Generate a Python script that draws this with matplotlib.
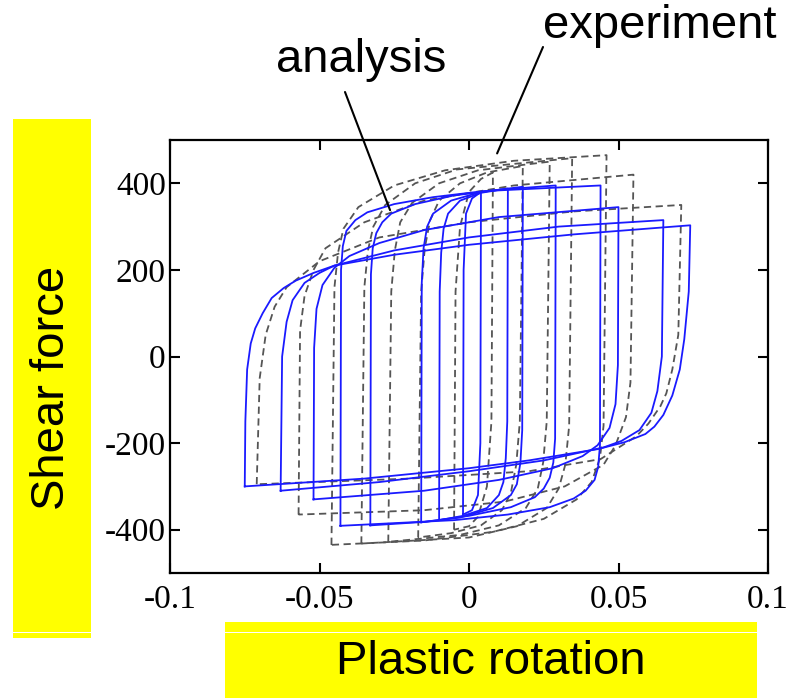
import matplotlib.pyplot as plt
from matplotlib.patches import Rectangle

# analysis loops (blue): each list = ascending branch then descending branch
ana_loop1 = [(-0.002, -365), (-0.0018, 200), (-0.001, 330), (0.001, 365), (0.004, 380),
             (0.0038, -200), (0.003, -320), (0.001, -355), (-0.002, -365)]
ana_loop2 = [(-0.010, -378), (-0.0098, 150), (-0.0093, 240), (-0.0085, 295), (-0.007, 330), (-0.003, 360), (0.004, 378), (0.013, 388),
             (0.0128, -150), (0.0123, -235), (0.0115, -290), (0.010, -320), (0.006, -350), (-0.002, -368), (-0.010, -378)]
ana_loop3 = [(-0.016, -383), (-0.0158, 170), (-0.0152, 250), (-0.014, 300), (-0.012, 330), (-0.006, 360), (0.004, 380), (0.018, 392),
             (0.0178, -170), (0.0172, -245), (0.016, -295), (0.014, -320), (0.008, -350), (-0.003, -372), (-0.016, -383)]
ana_loop4 = [(-0.033, -390), (-0.0328, 190), (-0.0322, 250), (-0.031, 285), (-0.029, 310), (-0.026, 330), (-0.018, 352), (-0.005, 372), (0.010, 385), (0.029, 395),
             (0.0288, -190), (0.0282, -245), (0.027, -280), (0.025, -305), (0.022, -325), (0.014, -348), (0.0, -368), (-0.015, -382), (-0.033, -390)]
ana_loop5 = [(-0.043, -391), (-0.0428, 200), (-0.0422, 255), (-0.041, 290), (-0.038, 315), (-0.034, 333), (-0.025, 352), (-0.012, 368), (0.005, 382), (0.044, 395),
             (0.0438, -205), (0.0432, -255), (0.042, -285), (0.039, -310), (0.035, -328), (0.027, -348), (0.013, -365), (-0.005, -378), (-0.043, -391)]
ana_loop6 = [(-0.052, -330), (-0.0518, 20), (-0.051, 110), (-0.049, 165), (-0.045, 205), (-0.040, 232), (-0.030, 262), (-0.015, 292), (0.010, 322), (0.050, 345),
             (0.0498, -20), (0.049, -110), (0.047, -165), (0.043, -205), (0.038, -230), (0.028, -258), (0.010, -285), (-0.015, -310), (-0.052, -330)]
ana_loop7 = [(-0.063, -310), (-0.0625, 0), (-0.061, 80), (-0.059, 130), (-0.055, 170), (-0.050, 193), (-0.045, 210), (-0.025, 245), (0.0, 275), (0.030, 300), (0.065, 315),
             (0.0645, 0), (0.063, -80), (0.061, -130), (0.057, -170), (0.051, -195), (0.045, -210), (0.025, -240), (0.0, -265), (-0.030, -290), (-0.063, -310)]
ana_loop8 = [(-0.075, -300), (-0.0748, -150), (-0.0742, -30), (-0.073, 30), (-0.0715, 65), (-0.069, 100), (-0.066, 135),
             (-0.062, 158), (-0.058, 175), (-0.052, 193), (-0.045, 210), (-0.025, 235), (0.0, 258), (0.035, 282), (0.074, 303),
             (0.0735, 150), (0.072, 40), (0.0705, -30), (0.068, -90), (0.065, -135), (0.062, -162), (0.059, -179),
             (0.052, -198), (0.043, -214), (0.020, -240), (0.0, -258), (-0.035, -282), (-0.075, -300)]

# experiment loops (grey dashed)
exp_loop1 = [(-0.005, -400), (-0.0045, 150), (-0.003, 300), (0.0, 380), (0.004, 410), (0.008, 425),
             (0.0075, -150), (0.006, -300), (0.003, -370), (0.0, -392), (-0.005, -400)]
exp_loop2 = [(-0.017, -418), (-0.016, 150), (-0.0148, 250), (-0.013, 315), (-0.010, 360), (-0.003, 400), (0.006, 425), (0.018, 440),
             (0.017, -150), (0.0158, -250), (0.014, -315), (0.011, -355), (0.004, -390), (-0.006, -408), (-0.017, -418)]
exp_loop3 = [(-0.027, -428), (-0.026, 150), (-0.0248, 245), (-0.023, 310), (-0.019, 355), (-0.010, 400), (0.003, 430), (0.027, 450),
             (0.026, -150), (0.0248, -245), (0.023, -305), (0.019, -350), (0.010, -390), (-0.003, -412), (-0.027, -428)]
exp_loop4 = [(-0.036, -432), (-0.035, 160), (-0.0338, 245), (-0.032, 300), (-0.028, 350), (-0.018, 400), (-0.004, 432), (0.0345, 458),
             (0.0335, -160), (0.0322, -250), (0.030, -305), (0.026, -350), (0.016, -392), (0.0, -418), (-0.036, -432)]
exp_loop5 = [(-0.046, -435), (-0.045, 160), (-0.0438, 240), (-0.042, 295), (-0.037, 345), (-0.025, 395), (-0.008, 430), (0.015, 452), (0.046, 465),
             (0.045, -160), (0.0438, -235), (0.041, -290), (0.036, -330), (0.025, -375), (0.008, -405), (-0.015, -425), (-0.046, -435)]
exp_loop6 = [(-0.057, -365), (-0.0565, 60), (-0.055, 140), (-0.052, 200), (-0.048, 250), (-0.035, 310), (-0.015, 360), (0.015, 395), (0.055, 420),
             (0.054, -60), (0.0525, -140), (0.049, -205), (0.045, -250), (0.032, -300), (0.012, -335), (-0.015, -355), (-0.057, -365)]
exp_loop7 = [(-0.071, -295), (-0.070, -50), (-0.068, 50), (-0.065, 115), (-0.061, 160), (-0.050, 220), (-0.030, 275), (0.0, 310), (0.035, 335), (0.071, 350),
             (0.070, 50), (0.068, -30), (0.066, -85), (0.064, -115), (0.060, -155), (0.056, -184), (0.044, -237), (0.020, -265), (-0.020, -282), (-0.071, -295)]

ana_loops = [ana_loop1, ana_loop2, ana_loop3, ana_loop4, ana_loop5, ana_loop6, ana_loop7, ana_loop8]
exp_loops = [exp_loop1, exp_loop2, exp_loop3, exp_loop4, exp_loop5, exp_loop6, exp_loop7]

xticks = [-0.1, -0.05, 0, 0.05, 0.1]
xtick_labels = ["-0.1", "-0.05", "0", "0.05", "0.1"]
yticks = [-400, -200, 0, 200, 400]
ytick_labels = ["-400", "-200", "0", "200", "400"]

W, H = 802, 698
fig = plt.figure(figsize=(W / 100, H / 100), dpi=100)
ax = fig.add_axes([170 / W, 1 - 573 / H, 598 / W, 433 / H])

for loop in exp_loops:
    xs = [p[0] for p in loop]
    ys = [p[1] for p in loop]
    ax.plot(xs, ys, color="#555555", lw=1.3, linestyle=(0, (4, 2.5)))
for loop in ana_loops:
    xs = [p[0] for p in loop]
    ys = [p[1] for p in loop]
    ax.plot(xs, ys, color="#1a1aff", lw=1.3)

ax.set_xlim(-0.1, 0.1)
ax.set_ylim(-500, 500)
ax.set_xticks(xticks)
ax.set_xticklabels(xtick_labels)
ax.set_yticks(yticks)
ax.set_yticklabels(ytick_labels)
ax.tick_params(direction="in", length=7, width=1.5, top=True, right=True,
               labelsize=24)
ax.tick_params(axis="x", pad=8)
ax.tick_params(axis="y", pad=3)
for lab in ax.get_xticklabels() + ax.get_yticklabels():
    lab.set_family("Liberation Serif")
for sp in ax.spines.values():
    sp.set_linewidth(1.6)

# yellow label boxes
fig.add_artist(Rectangle((13 / W, 1 - 638 / H), 78 / W, 519 / H, transform=fig.transFigure,
                         facecolor="yellow", edgecolor="none", zorder=0))
fig.add_artist(Rectangle((13 / W, 1 - 633 / H), 78 / W, 1.2 / H, transform=fig.transFigure,
                         facecolor="white", edgecolor="none", zorder=1))
fig.add_artist(Rectangle((225 / W, 0), 532 / W, 76 / H, transform=fig.transFigure,
                         facecolor="yellow", edgecolor="none", zorder=0))
fig.add_artist(Rectangle((225 / W, 1 - 633 / H), 532 / W, 1.2 / H, transform=fig.transFigure,
                         facecolor="white", edgecolor="none", zorder=1))

fig.text(52 / W, 1 - 388 / H, "Shear force", rotation=90, ha="center", va="center",
         fontsize=34, family="Liberation Sans")
fig.text(491 / W, 1 - 662 / H, "Plastic rotation", ha="center", va="center",
         fontsize=34, family="Liberation Sans")
fig.text(361 / W, 1 - 60 / H, "analysis", ha="center", va="center",
         fontsize=34, family="Liberation Sans")
fig.text(660 / W, 1 - 26 / H, "experiment", ha="center", va="center",
         fontsize=34, family="Liberation Sans")

ax.annotate("", xy=(-0.0264, 338), xytext=(345, H - 92), textcoords="figure pixels",
            arrowprops=dict(arrowstyle="-", lw=1.5, color="black", shrinkA=0, shrinkB=0),
            annotation_clip=False)
ax.annotate("", xy=(0.0094, 469), xytext=(543, H - 47), textcoords="figure pixels",
            arrowprops=dict(arrowstyle="-", lw=1.5, color="black", shrinkA=0, shrinkB=0),
            annotation_clip=False)

fig.savefig("out.png", dpi=100)
